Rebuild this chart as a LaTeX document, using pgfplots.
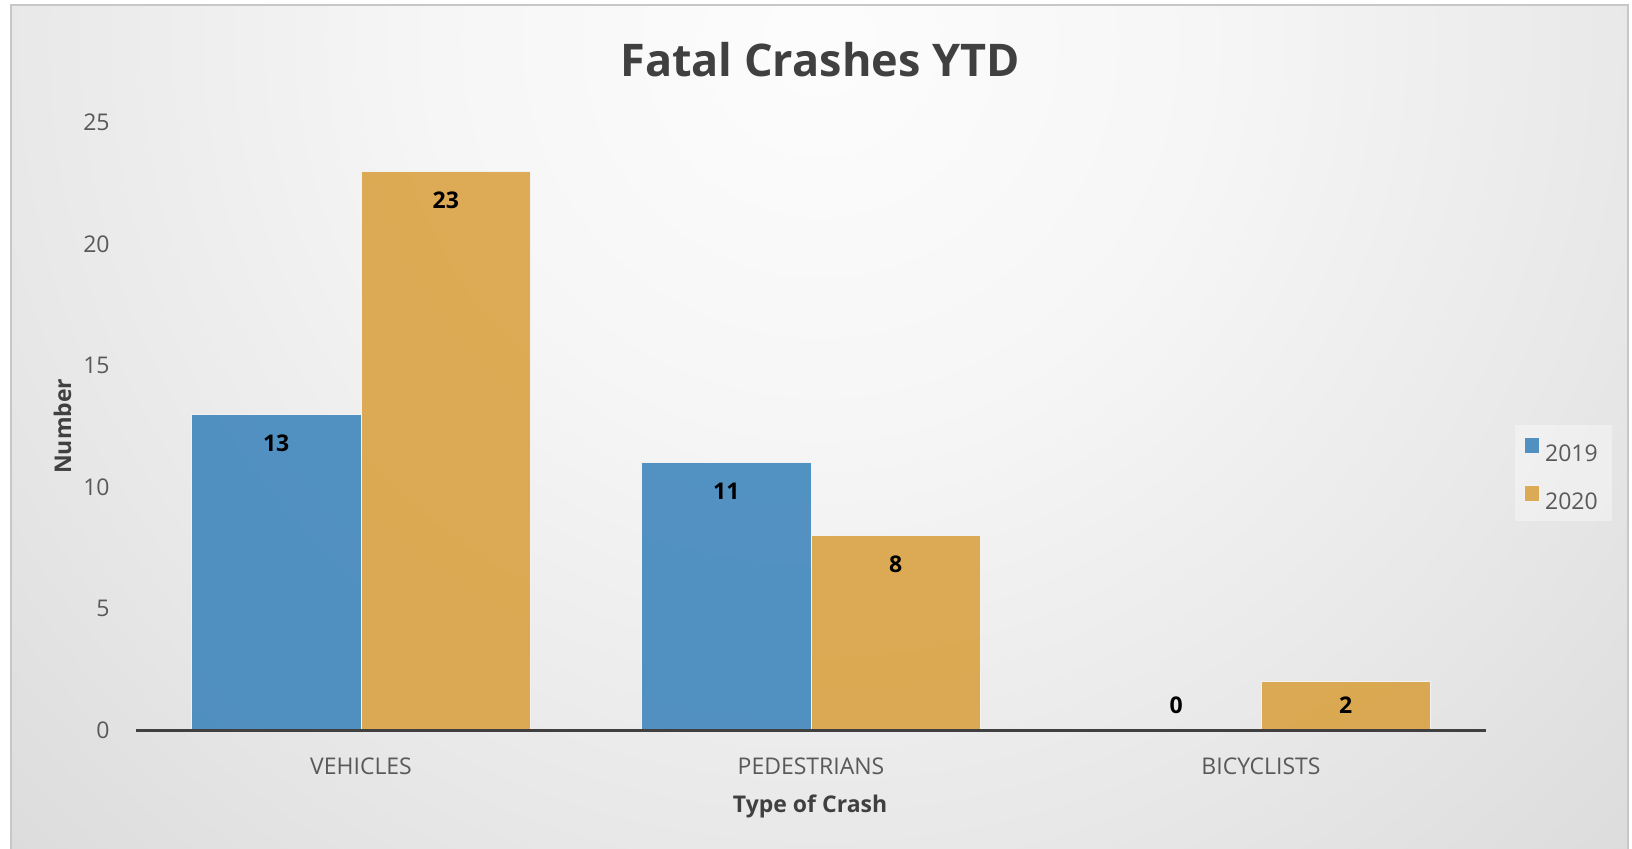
\documentclass[border=0pt]{standalone}
\usepackage{pgfplots}
\pgfplotsset{compat=1.18}
\usepackage{fontspec}
\setmainfont{Open Sans}
\definecolor{bluebar}{RGB}{54,129,186}
\definecolor{goldbar}{RGB}{217,158,57}
\definecolor{titlegray}{RGB}{64,64,64}
\definecolor{tickgray}{RGB}{89,89,89}
\definecolor{gridA}{RGB}{140,140,140}
\definecolor{gridB}{RGB}{160,160,160}
\definecolor{gridC}{RGB}{184,184,184}
\definecolor{gridD}{RGB}{200,200,200}
\definecolor{gridE}{RGB}{218,218,218}
\pgfdeclareradialshading{chartbg}{\pgfpoint{0bp}{0bp}}{%
  color(0bp)=(white!99!black);
  color(8bp)=(white!96.5!black);
  color(17bp)=(white!91!black);
  color(33bp)=(white!80!black);
  color(48bp)=(white!75.5!black);
  color(50bp)=(white!75.5!black)}
\begin{document}
\begin{tikzpicture}
\fill[white] (0,0) rectangle (816pt,-424.5pt);
\begin{scope}
  \clip (5.5pt,-2.5pt) rectangle (814pt,-426pt);
  \shade[shading=chartbg] (410pt,-20pt) circle (600pt);
\end{scope}
\draw[line width=1pt, color=black!22] (5.5pt,-426pt) -- (5.5pt,-2.5pt) -- (814pt,-2.5pt) -- (814pt,-426pt);
\begin{axis}[
  at={(68pt,-365pt)}, anchor=south west,
  scale only axis, width=675pt, height=303.75pt,
  set layers, axis on top,
  /pgf/number format/assume math mode=true,
  ymin=0, ymax=25, ytick={0,5,...,25},
  xmin=-0.5, xmax=2.5, xtick={0,1,2},
  xticklabels={VEHICLES,PEDESTRIANS,BICYCLISTS},
  axis x line*=bottom, axis y line*=left,
  x axis line style={line width=1.5pt, color=titlegray, -},
  y axis line style={draw=none},
  major tick length=0pt,
  tick label style={font=\fontsize{11.5}{14}\selectfont, color=tickgray},
  yticklabel style={anchor=east, inner sep=0pt, xshift=-13pt},
  xticklabel style={anchor=base, inner sep=0pt, yshift=-22pt},
  title={Fatal Crashes YTD},
  title style={at={(axis description cs:0.5067,1.0840)}, anchor=center, inner sep=0pt,
    font=\bfseries\fontsize{22.5}{27}\selectfont, color=titlegray},
  xlabel={Type of Crash},
  ylabel={Number},
  every axis x label/.style={at={(axis description cs:0.4993,-0.1251)}, anchor=center,
    font=\bfseries\fontsize{11.5}{14}\selectfont, color=titlegray},
  every axis y label/.style={at={(axis description cs:-0.0544,0.5)}, anchor=center, rotate=90,
    font=\bfseries\fontsize{11.5}{14}\selectfont, color=titlegray},
  legend style={at={(axis description cs:1.0574,0.423)}, anchor=center,
    fill=white, fill opacity=0.35, text opacity=1, draw=none,
    inner xsep=4.5pt, inner ysep=5.7pt, row sep=12pt,
    font=\fontsize{11.5}{14}\selectfont, text=tickgray,
    nodes={inner xsep=2.5pt, inner ysep=0pt, text height=8pt, text depth=0pt}},
  legend cell align=left,
  barlabels/.style={
    nodes near coords,
    visualization depends on={rawy \as \rawy},
    every node near coord/.append style={font=\bfseries\fontsize{11.5}{14}\selectfont, color=black,
      text opacity=1, anchor=center, xshift=#1, yshift={max(-14.5,12.5-\rawy*12.15)}}},
]
\addplot[on layer=axis background, line width=1pt, gridA, forget plot, mark=none] coordinates {(-0.5,5) (2.5,5)};
\addplot[on layer=axis background, line width=1pt, gridB, forget plot, mark=none] coordinates {(-0.5,10) (2.5,10)};
\addplot[on layer=axis background, line width=1pt, gridC, forget plot, mark=none] coordinates {(-0.5,15) (2.5,15)};
\addplot[on layer=axis background, line width=1pt, gridD, forget plot, mark=none] coordinates {(-0.5,20) (2.5,20)};
\addplot[on layer=axis background, line width=1pt, gridE, forget plot, mark=none] coordinates {(-0.5,25) (2.5,25)};
\addplot[ybar, bar width=0.3767, bar shift=-0.18835, fill=bluebar, fill opacity=0.85,
  draw=white!90!gray, line width=0.5pt, barlabels=-42.38pt,
  legend image code/.code={\fill[fill=bluebar, fill opacity=0.85, draw=white!90!gray, line width=0.4pt] (0pt,0pt) rectangle (7.5pt,8pt);}]
  coordinates {(0,13) (1,11) (2,0)};
\addplot[ybar, bar width=0.3767, bar shift=0.18835, fill=goldbar, fill opacity=0.85,
  draw=white!90!gray, line width=0.5pt, barlabels=42.38pt,
  legend image code/.code={\fill[fill=goldbar, fill opacity=0.85, draw=white!90!gray, line width=0.4pt] (0pt,0pt) rectangle (7.5pt,8pt);}]
  coordinates {(0,23) (1,8) (2,2)};
\legend{2019,2020}
\end{axis}
\pgfresetboundingbox
\path (0,0) rectangle (816pt,-424.5pt);
\end{tikzpicture}
\end{document}
